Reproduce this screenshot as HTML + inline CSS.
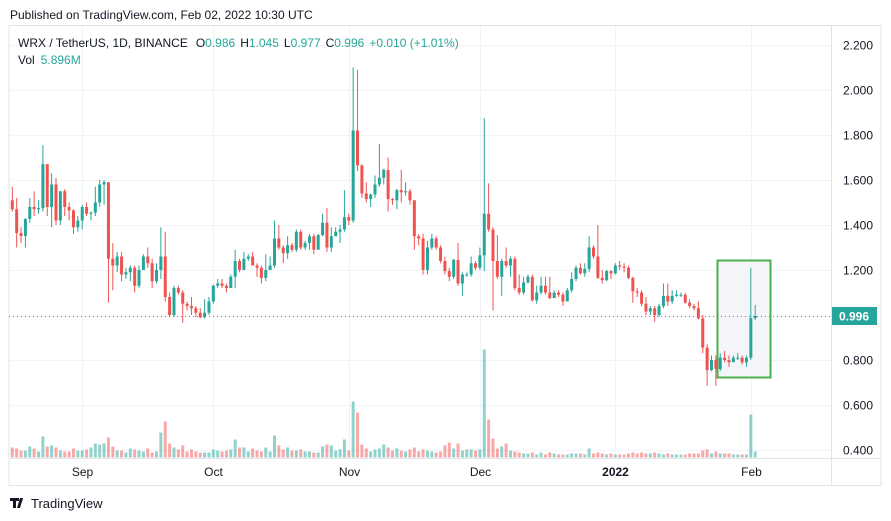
<!DOCTYPE html>
<html><head><meta charset="utf-8"><style>
html,body{margin:0;padding:0;background:#fff;width:891px;height:521px;overflow:hidden;font-family:"Liberation Sans",sans-serif;}
svg{display:block}
</style></head><body>
<svg id="chart" width="891" height="521" xmlns="http://www.w3.org/2000/svg">
<text x="10" y="19" font-size="12" fill="#131722" font-family="Liberation Sans, sans-serif">Published on TradingView.com, Feb 02, 2022 10:30 UTC</text>
<rect x="9" y="25.5" width="872" height="460" fill="none" stroke="#e0e3eb" stroke-width="1"/>
<g id="grid"></g>
<rect x="717.5" y="260.5" width="53" height="117" fill="#f3f5f8" stroke="#4caf50" stroke-width="2"/>
<g id="vol"></g>
<g id="candles"></g>
<line x1="9" x2="831" y1="316.5" y2="316.5" stroke="#26a69a" stroke-width="1" stroke-dasharray="1,3"/>
<line x1="831.5" x2="831.5" y1="25" y2="486" stroke="#e0e3eb"/>
<line x1="9" x2="881" y1="458.5" y2="458.5" stroke="#e0e3eb"/>
<g id="yaxis" font-size="12" fill="#131722"></g>
<g id="xaxis" font-size="12" fill="#131722"></g>
<rect x="832" y="307" width="45" height="18" fill="#26a69a"/>
<text x="854" y="320.5" text-anchor="middle" font-size="12" font-weight="bold" fill="#fff">0.996</text>
<g font-size="12">
<text x="18" y="47" fill="#131722">WRX / TetherUS, 1D, BINANCE<tspan fill="#131722" dx="8">O</tspan><tspan fill="#26a69a">0.986</tspan><tspan dx="5" fill="#131722">H</tspan><tspan fill="#26a69a">1.045</tspan><tspan dx="5" fill="#131722">L</tspan><tspan fill="#26a69a">0.977</tspan><tspan dx="5" fill="#131722">C</tspan><tspan fill="#26a69a">0.996</tspan><tspan dx="5" fill="#26a69a">+0.010 (+1.01%)</tspan></text>
<text x="18" y="64" fill="#131722">Vol<tspan dx="6" fill="#26a69a">5.896M</tspan></text>
</g>
<g>
<path d="M10 498h9v3h-3v7h-3v-7h-3z M20 498l3 0 -3 10 -3 0z" fill="#131722"/>
<circle cx="21" cy="500" r="1.6" fill="#131722"/>
<text x="31" y="508" font-size="13" fill="#131722">TradingView</text>
</g>
</svg>
<script>
const closes=[1.47,1.364,1.351,1.427,1.48,1.47,1.475,1.67,1.48,1.58,1.42,1.55,1.48,1.465,1.39,1.42,1.48,1.45,1.455,1.50,1.58,1.59,1.25,1.22,1.26,1.18,1.19,1.21,1.13,1.20,1.26,1.23,1.15,1.20,1.26,1.08,1.00,1.12,1.10,1.05,1.04,1.03,1.01,0.99,1.01,1.06,1.13,1.14,1.13,1.12,1.17,1.24,1.20,1.25,1.26,1.22,1.21,1.165,1.20,1.22,1.34,1.30,1.275,1.31,1.29,1.37,1.30,1.32,1.35,1.29,1.355,1.41,1.30,1.35,1.37,1.38,1.435,1.42,1.82,1.665,1.54,1.515,1.535,1.58,1.61,1.645,1.515,1.51,1.555,1.545,1.55,1.51,1.35,1.34,1.20,1.30,1.34,1.30,1.24,1.195,1.17,1.245,1.14,1.18,1.18,1.23,1.21,1.265,1.45,1.38,1.24,1.17,1.24,1.22,1.25,1.12,1.10,1.145,1.17,1.065,1.10,1.13,1.10,1.075,1.10,1.09,1.06,1.11,1.16,1.21,1.185,1.205,1.30,1.26,1.165,1.155,1.195,1.185,1.22,1.215,1.21,1.165,1.105,1.10,1.05,1.015,1.03,1.00,1.04,1.085,1.06,1.085,1.09,1.09,1.055,1.04,1.03,0.985,0.855,0.755,0.80,0.76,0.81,0.80,0.79,0.81,0.81,0.79,0.81,0.986,0.996];
const opens=[1.51,1.47,1.364,1.351,1.427,1.48,1.47,1.475,1.67,1.48,1.58,1.42,1.55,1.48,1.465,1.39,1.42,1.48,1.45,1.455,1.50,1.58,1.59,1.25,1.22,1.26,1.18,1.19,1.21,1.13,1.20,1.26,1.23,1.15,1.20,1.26,1.08,1.00,1.12,1.10,1.05,1.04,1.03,1.01,0.99,1.01,1.06,1.13,1.14,1.13,1.12,1.17,1.24,1.20,1.25,1.26,1.22,1.21,1.165,1.20,1.22,1.34,1.30,1.275,1.31,1.29,1.37,1.30,1.32,1.35,1.29,1.355,1.41,1.30,1.35,1.37,1.38,1.435,1.42,1.82,1.665,1.54,1.515,1.535,1.58,1.61,1.645,1.515,1.51,1.555,1.545,1.55,1.51,1.35,1.34,1.20,1.30,1.34,1.30,1.24,1.195,1.17,1.245,1.14,1.18,1.18,1.23,1.21,1.265,1.45,1.38,1.24,1.17,1.24,1.22,1.25,1.12,1.10,1.145,1.17,1.065,1.10,1.13,1.10,1.075,1.10,1.09,1.06,1.11,1.16,1.21,1.185,1.205,1.30,1.26,1.165,1.155,1.195,1.185,1.22,1.215,1.21,1.165,1.105,1.10,1.05,1.015,1.03,1.00,1.04,1.085,1.06,1.085,1.09,1.09,1.055,1.04,1.03,0.985,0.855,0.755,0.80,0.76,0.81,0.80,0.79,0.81,0.81,0.79,0.81,0.986];
const highs=[1.57,1.52,1.39,1.43,1.52,1.55,1.51,1.755,1.67,1.63,1.61,1.55,1.56,1.50,1.47,1.44,1.49,1.50,1.46,1.57,1.60,1.60,1.59,1.32,1.28,1.28,1.21,1.22,1.22,1.22,1.27,1.30,1.25,1.23,1.39,1.37,1.10,1.13,1.13,1.11,1.06,1.08,1.04,1.03,1.07,1.08,1.135,1.16,1.16,1.14,1.18,1.29,1.25,1.28,1.27,1.28,1.23,1.22,1.27,1.26,1.42,1.40,1.31,1.35,1.32,1.38,1.38,1.33,1.36,1.36,1.36,1.45,1.475,1.39,1.39,1.40,1.555,1.45,2.10,2.09,1.67,1.59,1.54,1.62,1.76,1.65,1.70,1.52,1.56,1.645,1.59,1.56,1.51,1.36,1.36,1.33,1.36,1.35,1.31,1.26,1.21,1.25,1.32,1.19,1.19,1.26,1.24,1.30,1.875,1.585,1.39,1.355,1.25,1.30,1.26,1.26,1.18,1.17,1.18,1.18,1.13,1.17,1.17,1.17,1.11,1.11,1.10,1.12,1.19,1.22,1.23,1.23,1.35,1.31,1.40,1.20,1.20,1.20,1.23,1.24,1.23,1.22,1.17,1.12,1.11,1.08,1.04,1.04,1.05,1.14,1.14,1.11,1.11,1.10,1.10,1.07,1.05,1.06,1.00,0.87,0.82,0.82,0.83,0.84,0.82,0.82,0.83,0.82,0.82,1.21,1.045];
const lows=[1.46,1.30,1.32,1.30,1.41,1.44,1.45,1.46,1.44,1.39,1.40,1.40,1.44,1.42,1.36,1.37,1.38,1.44,1.42,1.44,1.48,1.49,1.055,1.11,1.19,1.15,1.16,1.15,1.10,1.12,1.20,1.21,1.12,1.14,1.16,1.06,0.99,0.99,1.09,0.965,1.02,1.00,0.99,0.985,0.985,1.00,1.05,1.12,1.12,1.10,1.12,1.12,1.19,1.20,1.24,1.22,1.17,1.14,1.15,1.20,1.21,1.29,1.23,1.25,1.28,1.28,1.29,1.29,1.29,1.27,1.30,1.35,1.28,1.28,1.35,1.32,1.37,1.40,1.41,1.64,1.52,1.50,1.48,1.52,1.57,1.58,1.46,1.49,1.47,1.50,1.53,1.49,1.29,1.31,1.18,1.18,1.29,1.29,1.23,1.18,1.15,1.16,1.13,1.085,1.17,1.17,1.20,1.20,1.195,1.37,1.02,1.16,1.085,1.21,1.17,1.11,1.09,1.09,1.14,1.06,1.05,1.09,1.09,1.07,1.09,1.08,1.04,1.06,1.10,1.15,1.18,1.17,1.19,1.25,1.16,1.14,1.15,1.16,1.18,1.20,1.19,1.16,1.055,1.08,1.04,1.00,1.00,0.97,0.99,1.03,1.04,1.05,1.08,1.08,1.05,1.03,1.02,0.98,0.83,0.685,0.75,0.685,0.75,0.79,0.77,0.79,0.80,0.78,0.77,0.80,0.977];
const volumes=[10,9,7,7,11,9,6,21,11,12,10,7,6,6,9,7,7,8,10,14,13,14,20,11,7,7,5,9,8,7,6,9,5,6,25,36,14,10,8,12,6,8,6,5,5,5,8,7,6,7,8,18,10,10,6,9,7,6,10,6,22,12,8,10,7,7,8,6,6,5,5,11,13,12,7,8,18,7,56,45,13,9,6,8,9,13,10,7,9,7,6,8,10,6,8,7,6,5,6,12,15,9,14,7,8,8,7,8,108,38,19,9,11,14,7,6,5,4,4,5,3,5,3,5,4,3,3,3,4,4,4,3,9,4,5,4,3,4,3,3,3,4,5,4,5,4,4,5,4,3,4,3,3,3,3,4,4,4,7,8,4,6,4,4,4,3,3,3,3,43,6];
const priceTicks=[2.2,2.0,1.8,1.6,1.4,1.2,1.0,0.8,0.6,0.4];
const priceTickLabels=["2.200","2.000","1.800","1.600","1.400","1.200","","0.800","0.600","0.400"];
const timeTickIdx=[16,46,77,107,138,169];
const timeTickLabels=["Sep","Oct","Nov","Dec","2022","Feb"];

const NS="http://www.w3.org/2000/svg";
function yP(p){return 270+(1.2-p)*225;}
function xI(i){return 12.3+i*4.37;}
function yV(v){return 457.5-v*1.0;}
function mk(tag,attrs,parent){const e=document.createElementNS(NS,tag);for(const k in attrs)e.setAttribute(k,attrs[k]);parent.appendChild(e);return e;}
const grid=document.getElementById('grid'),vol=document.getElementById('vol'),cg=document.getElementById('candles'),ya=document.getElementById('yaxis'),xa=document.getElementById('xaxis');
priceTicks.forEach((p,k)=>{
  if(priceTickLabels[k]==="")return;
  const y=Math.round(yP(p))+0.5;
  const l=mk('line',{x1:9,x2:831,y1:y,y2:y,stroke:'#f0f3fa','stroke-width':1},grid);
  
  
  const t=mk('text',{x:843,y:y+4},ya);
  t.textContent=priceTickLabels[k];
  
  
});
timeTickIdx.forEach((i,k)=>{
  const x=Math.round(xI(i))+0.5;
  const l=mk('line',{x1:x,x2:x,y1:26,y2:458,stroke:'#f0f3fa','stroke-width':1},grid);
  
  
  const t=mk('text',{x:x,y:476,'text-anchor':'middle'},xa);
  if(timeTickLabels[k]==="2022")t.setAttribute('font-weight','bold');
  t.textContent=timeTickLabels[k];
  
  
});
closes.forEach((c,i)=>{
  const o=opens[i],up=c>=o,x=xI(i);
  const col=up?'#26a69a':'#ef5350';
  const vb=mk('rect',{x:x-1.5,y:yV(volumes[i]),width:3,height:457.5-yV(volumes[i]),fill:up?'rgba(38,166,154,0.5)':'rgba(239,83,80,0.5)'},vol);
  
  
  const w=mk('line',{x1:x,x2:x,y1:yP(highs[i]),y2:yP(lows[i]),stroke:col,'stroke-width':1},cg);
  
  
  const top=yP(Math.max(o,c)),bot=yP(Math.min(o,c));
  const b=mk('rect',{x:x-1.5,y:top,width:3,height:Math.max(1,bot-top),fill:col},cg);
  
  
});
</script>
</body></html>
